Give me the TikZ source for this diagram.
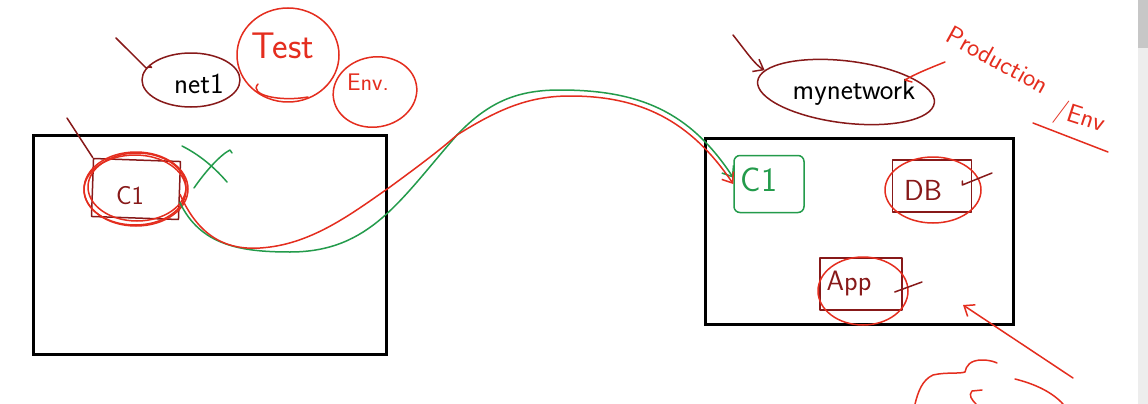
\documentclass[tikz,border=0pt]{standalone}
\usetikzlibrary{arrows.meta,shapes.geometric,calc}
\definecolor{dred}{RGB}{135,25,25}
\definecolor{pred}{RGB}{228,45,30}
\definecolor{pgreen}{RGB}{35,155,75}
\tikzset{
  darkpen/.style={draw=dred,line width=1.5pt,line cap=round,line join=round},
  redpen/.style={draw=pred,line width=1.5pt,line cap=round,line join=round},
  greenpen/.style={draw=pgreen,line width=1.5pt,line cap=round,line join=round},
  frame/.style={draw=black,line width=3pt},
  hand/.style={font=\sffamily\fontsize{#1}{#1}\selectfont,inner sep=0pt},
  hand/.default=22,
  barb/.style={-{Straight Barb[length=9pt,width=14pt]}},
}
\begin{document}
\begin{tikzpicture}[x=1pt,y=-1pt]
\useasboundingbox (0,0) rectangle (1148,404);
\fill[white] (0,0) rectangle (1148,404);
% scrollbar
\fill[black!7] (1138,0) rectangle (1148,404);
\fill[black!22] (1138,0) rectangle (1148,48);

% environment frames
\node[frame,minimum width=353pt,minimum height=219pt,inner sep=0pt] (testbox) at (210,245) {};
\node[frame,minimum width=308pt,minimum height=186pt,inner sep=0pt] (prodbox) at (859,231) {};

% ---- left side: net1 / Test / Env
\node[darkpen,ellipse,minimum width=98pt,minimum height=54pt,inner sep=0pt] (net1) at (191,80) {};
\node[hand=29,text=black] (net1t) at (199,84) {net1};
\coordinate (net1tail) at (116,38);
\draw[darkpen] (net1tail) -- (net1.165) .. controls +(5,-3) and +(3,4) .. ($(net1.165)+(4,-2)$);

\node[redpen,ellipse,minimum width=102pt,minimum height=94pt,inner sep=0pt] (test) at (288,55) {};
\node[hand=37,text=pred] (testt) at (283,46) {Test};
\draw[redpen] (258,84) .. controls (248,95) and (280,102) .. (308,97);

\node[redpen,ellipse,minimum width=84pt,minimum height=70pt,inner sep=0pt,rotate=10] (env) at (375,92) {};
\node[hand=24,text=pred] (envt) at (368,82) {Env.};

% ---- left C1
\node[darkpen,minimum width=87pt,minimum height=58pt,inner sep=0pt,rotate=-2] (lc1) at (136,189) {};
\node[hand=26,text=dred] (lc1t) at (130,196) {C1};
\draw[redpen] (lc1.center) ellipse (52pt and 37pt);
\draw[redpen] ($(lc1.center)+(1,-2)$) ellipse (49pt and 34pt);
\draw[redpen] ($(lc1.center)+(-1,1)$) ellipse (51pt and 35pt);
\coordinate (lc1tail) at (67,118);
\draw[darkpen] (lc1tail) -- (lc1.north west);

% green X
\draw[greenpen] (182,146) .. controls (200,155) and (215,168) .. (227,182);
\draw[greenpen] (194,188) .. controls (205,172) and (220,155) .. (230,150) -- (232,153);

% ---- right side: mynetwork
\node[darkpen,ellipse,minimum width=178pt,minimum height=62pt,inner sep=0pt,rotate=-7] (myn) at (846,92) {};
\node[hand=29,text=black] (mynt) at (854,92) {mynetwork};
\coordinate (myntail) at (733,35);
\draw[darkpen,barb] (myntail) .. controls (745,50) and (755,65) .. (myn.172);

\node[hand=26,text=pred,rotate=-29,anchor=center] (prodt) at (998,60) {Production};
\node[hand=26,text=pred,rotate=-18,anchor=center] (envt2) at (1080,118) {/Env};
\coordinate (ulA) at (1033,123);
\coordinate (ulB) at (1108,152);
\draw[redpen] (ulA) -- (ulB);
\coordinate (prodtail) at (945,62);
\coordinate (prodhead) at (905,80);
\draw[redpen] (prodtail) .. controls (930,68) and (915,74) .. (prodhead) -- (912,82);

% ---- right C1, DB, App
\node[greenpen,rounded corners=6pt,minimum width=70pt,minimum height=57pt,inner sep=0pt] (rc1) at (769,184) {};
\node[hand=34,text=pgreen] (rc1t) at (759,180) {C1};

\node[darkpen,minimum width=79pt,minimum height=52pt,inner sep=0pt] (db) at (932,186) {};
\node[hand=29,text=dred] (dbt) at (923,190) {DB};
\draw[redpen] ($(db.center)+(1,4)$) ellipse (48pt and 33pt);
\coordinate (dbtail) at (992,173);
\draw[darkpen] (db.east) ++(-10,-5) -- ++(0,4) -- (dbtail);

\node[darkpen,minimum width=82pt,minimum height=52pt,inner sep=0pt] (app) at (861,284) {};
\node[hand=28,text=dred] (appt) at (849,284) {App};
\draw[redpen] ($(app.center)+(2,7)$) ellipse (45pt and 34pt);
\coordinate (apptail) at (922,282);
\draw[darkpen] (app.east) ++(-8,8) -- (apptail);

% ---- connectors between the two C1
\draw[greenpen,barb] (lc1.-15) .. controls (200,245) and (240,252) .. (290,252)
  .. controls (370,252) and (400,200) .. (457,135)
  .. controls (490,100) and (520,90) .. (560,90)
  .. controls (640,90) and (690,112) .. (rc1.170);
\draw[redpen,barb] (lc1.-5) .. controls (200,240) and (230,250) .. (260,248)
  .. controls (310,245) and (350,215) .. (390,187)
  .. controls (420,165) and (440,150) .. (457,135)
  .. controls (500,108) and (530,96) .. (570,96)
  .. controls (640,96) and (690,120) .. (rc1.west);

% arrow at bottom right
\coordinate (btail) at (1073,378);
\coordinate (bhead) at (963,305);
\draw[redpen,barb] (btail) -- (bhead);

% scribbles at bottom
\draw[redpen] (915,404) .. controls (918,392) and (922,380) .. (933,375)
  .. controls (945,372) and (960,374) .. (965,372)
  .. controls (966,366) and (970,360) .. (982,360) .. controls (990,360) and (995,362) .. (997,363);
\draw[redpen] (1015,379) .. controls (1035,384) and (1052,392) .. (1063,404);
\draw[redpen] (982,390) -- (972,391) .. controls (968,395) and (972,400) .. (976,404);
\end{tikzpicture}
\end{document}
